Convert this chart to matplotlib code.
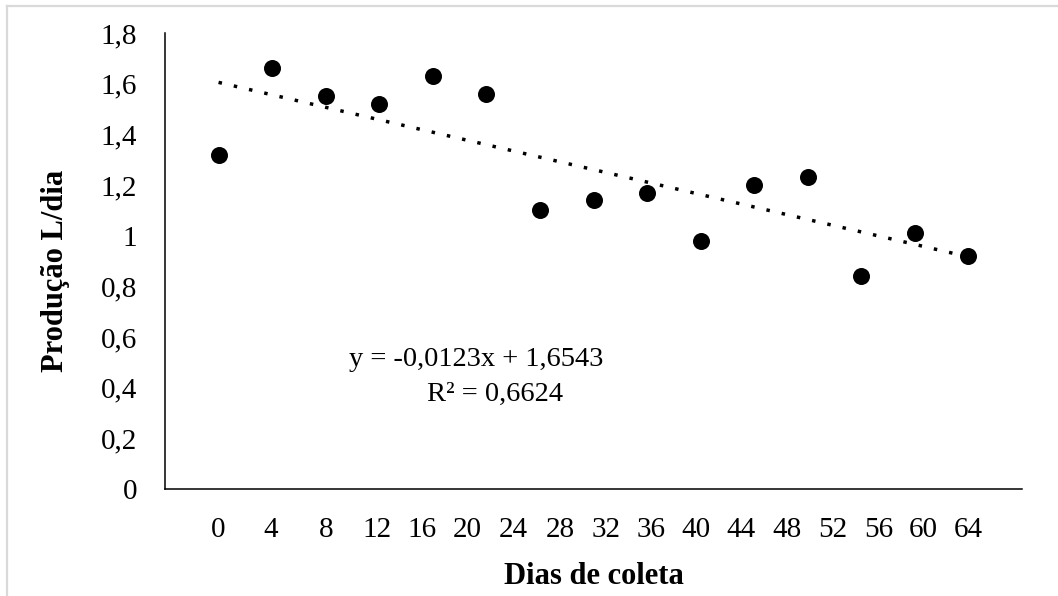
import numpy as np
import matplotlib.pyplot as plt

plt.switch_backend('agg')

# dados
producao = [1.32, 1.66, 1.55, 1.52, 1.63, 1.56, 1.10, 1.14, 1.17, 0.98, 1.20, 1.23, 0.84, 1.01, 0.92]
dias = [4, 8, 12, 16, 20, 24, 28, 32, 36, 40, 44, 48, 52, 56, 60]
rotulos_x = ['0', '4', '8', '12', '16', '20', '24', '28', '32', '36', '40', '44', '48', '52', '56', '60', '64']
rotulos_pos = [0, 0.98, 2.0, 2.95, 3.8, 4.65, 5.5, 6.38, 7.24, 8.08, 8.92, 9.76, 10.62, 11.46, 12.32, 13.16, 14.0]
inclinacao = -0.0123
intercepto = 1.6543
r2 = 0.6624

plt.rcParams['font.family'] = ['Liberation Serif', 'DejaVu Serif']

fig = plt.figure(figsize=(10.58, 5.96), dpi=100)
ax = fig.add_axes([165 / 1058, 1 - 489 / 596, (1022 - 165) / 1058, (489 - 33) / 596])

x = np.arange(len(producao))
ax.scatter(x, producao, s=150, color='black', zorder=3, linewidths=0)

# linha de tendencia (equacao em dias)
tend = intercepto + inclinacao * np.array(dias)
ax.plot(x, tend, color='black', lw=2.5, linestyle=(0, (1, 3.5)), dash_capstyle='butt')

ax.set_xlim(-1, 15)
ax.set_ylim(0, 1.8)
ax.set_yticks(np.arange(0, 1.81, 0.2))
ax.set_yticklabels(['0', '0,2', '0,4', '0,6', '0,8', '1', '1,2', '1,4', '1,6', '1,8'])
ax.set_xticks(rotulos_pos)
ax.set_xticklabels(rotulos_x)
ax.tick_params(axis='both', length=0, labelsize=21, pad=20)

for s in ['top', 'right']:
    ax.spines[s].set_visible(False)
for s in ['left', 'bottom']:
    ax.spines[s].set_linewidth(1.1)

ax.set_xlabel('Dias de coleta', fontsize=22, fontweight='bold', va='center')
ax.xaxis.set_label_coords(0.5, (489 - 577) / 456)
ax.set_ylabel('Produção L/dia', fontsize=22, fontweight='bold', va='center')
ax.yaxis.set_label_coords((55 - 165) / 857, (489 - 271) / 456)

eq1 = 'y = %sx + %s' % (str(inclinacao).replace('.', ','), str(intercepto).replace('.', ','))
eq2 = 'R² = %s' % str(r2).replace('.', ',')
fig.text(476 / 1058, 1 - 359 / 596, eq1, ha='center', va='center', fontsize=20.5)
fig.text(495 / 1058, 1 - 394 / 596, eq2, ha='center', va='center', fontsize=20.5)

# borda cinza da area do grafico
fig.add_artist(plt.Line2D([7 / 1058, 7 / 1058], [0, 1 - 6 / 596], color='#d9d9d9', lw=1.6))
fig.add_artist(plt.Line2D([7 / 1058, 1], [1 - 6 / 596, 1 - 6 / 596], color='#d9d9d9', lw=1.6))

fig.savefig('out.png', dpi=100)
plt.clf()
